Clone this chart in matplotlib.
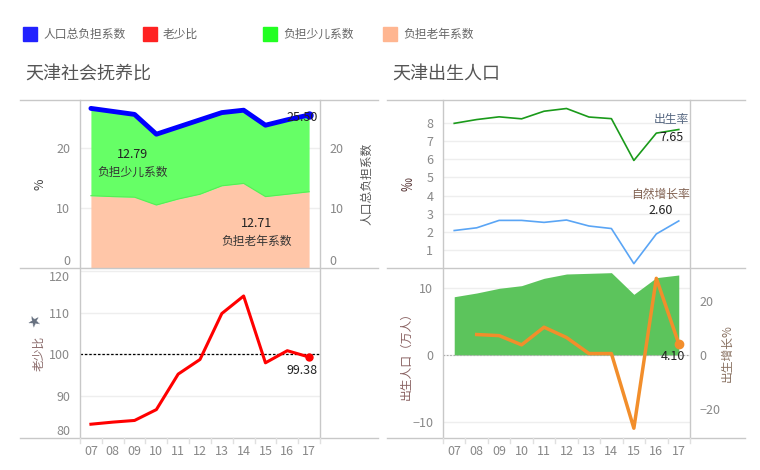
"""
天津社会抚养比 / 天津出生人口 dashboard
"""

import numpy as np
import matplotlib.pyplot as plt
from matplotlib.lines import Line2D
from matplotlib.patches import Rectangle

plt.rcParams['font.family'] = ['Noto Sans CJK SC', 'DejaVu Sans']

#---------------------------------------------------------------------------------------------------
# Data
#---------------------------------------------------------------------------------------------------

years = ['07', '08', '09', '10', '11', '12', '13', '14', '15', '16', '17']

# 抚养比 (%)
old_dep = [12.05, 11.9, 11.8, 10.5, 11.5, 12.3, 13.7, 14.1, 11.9, 12.3, 12.71]
total_dep = [26.6, 26.1, 25.6, 22.3, 23.5, 24.7, 25.9, 26.3, 23.8, 24.7, 25.50]
child_dep = [t - o for t, o in zip(total_dep, old_dep)]

# 老少比
old_young = [83.3, 83.8, 84.2, 86.8, 95.3, 98.8, 109.8, 114.0, 98.0, 100.9, 99.38]

# 出生率 / 自然增长率 (‰)
birth_rate = [7.99, 8.2, 8.35, 8.24, 8.66, 8.81, 8.34, 8.25, 5.94, 7.45, 7.65]
natural_growth = [2.07, 2.22, 2.63, 2.63, 2.52, 2.65, 2.32, 2.18, 0.24, 1.88, 2.60]

# 出生人口 (万人) and 出生增长%
births = [8.74, 9.3, 10.0, 10.4, 11.5, 12.15, 12.25, 12.35, 9.1, 11.6, 12.0]
birth_growth = [np.nan, 7.5, 7.1, 3.7, 10.2, 6.4, 0.5, 0.5, -27.0, 28.2, 4.10]

legend_labels = ['人口总负担系数', '老少比', '负担少儿系数', '负担老年系数']
legend_colors = ['#2222ff', '#ff2222', '#22ff22', '#ffb691']

#---------------------------------------------------------------------------------------------------
# Layout helpers (pixel coords -> figure fraction)
#---------------------------------------------------------------------------------------------------

W, H = 760, 470
fig = plt.figure(figsize=(7.6, 4.7), dpi=100)
grey_line = '#c8c8c8'
tick_col = '#888888'
text_col = '#555555'


def px_axes(x0, y0, x1, y1):
    ax = fig.add_axes([x0 / W, 1 - y1 / H, (x1 - x0) / W, (y1 - y0) / H])
    for s in ax.spines.values():
        s.set_visible(False)
    ax.patch.set_alpha(0)
    return ax


def hline(x0, x1, y):
    fig.add_artist(Line2D([x0 / W, x1 / W], [1 - y / H, 1 - y / H], color=grey_line, lw=1))


def vline(x, y0, y1):
    fig.add_artist(Line2D([x / W, x / W], [1 - y0 / H, 1 - y1 / H], color=grey_line, lw=1))


def style_axis(ax, ticks, ylim, side='left'):
    ax.set_xlim(-0.5, 10.5)
    ax.set_ylim(*ylim)
    ax.set_yticks(ticks)
    ax.set_xticks([])
    ax.tick_params(axis='y', length=0, labelsize=9, labelcolor=tick_col, pad=7,
                   left=False, right=False,
                   labelleft=(side == 'left'), labelright=(side == 'right'))


x = np.arange(len(years))

# Frame lines
for y in [100, 268, 438]:
    hline(20, 378, y)
    hline(387, 745, y)
for xv in [80, 320, 443, 690]:
    vline(xv, 100, 438)

# Small ticks at category boundaries below the x axis
for x0, x1 in [(80, 320), (443, 690)]:
    step = (x1 - x0) / 11
    for k in range(12):
        xp = x0 + k * step
        fig.add_artist(Line2D([xp / W, xp / W], [1 - 438 / H, 1 - 443 / H], color='#e0e0e0', lw=1))

# Titles
fig.text(25 / W, 1 - 75 / H, '天津社会抚养比', fontsize=13, color=text_col, va='center')
fig.text(392 / W, 1 - 75 / H, '天津出生人口', fontsize=13, color=text_col, va='center')

# Legend
leg_x = [23, 143, 263, 383]
for lx, lab, col in zip(leg_x, legend_labels, legend_colors):
    fig.add_artist(Rectangle((lx / W, 1 - 41 / H), 14 / W, 14 / H, color=col,
                             transform=fig.transFigure))
    fig.text((lx + 20) / W, 1 - 34 / H, lab, fontsize=8.5, color='#666666', va='center')

#---------------------------------------------------------------------------------------------------
# Top left: 抚养比 stacked areas
#---------------------------------------------------------------------------------------------------

ax1 = px_axes(80, 100, 320, 268)
style_axis(ax1, [0, 10, 20], (0, 28))
ax1.grid(axis='y', color='#eeeeee', lw=1)
ax1.set_axisbelow(True)
ax1.fill_between(x, 0, old_dep, color='#ffc6a8', lw=0)
ax1.fill_between(x, old_dep, total_dep, color='#66ff66', lw=0)
ax1.plot(x, old_dep, color='#55ee55', lw=0.8)
ax1.plot(x, total_dep, color='#0000ff', lw=3.5, solid_capstyle='round')
ax1.plot(x[-1], total_dep[-1], 'o', color='#0000ff', ms=5)
ax1.yaxis.get_ticklabels()[0].set_va('bottom')
ax1.text(1.9, 18.9, '%.2f' % child_dep[-1], fontsize=9, color='#222222', ha='center', va='center')
ax1.text(1.9, 16.0, '负担少儿系数', fontsize=8.5, color='#333333', ha='center', va='center')
ax1.text(7.6, 7.4, '%.2f' % old_dep[-1], fontsize=9, color='#222222', ha='center', va='center')
ax1.text(7.6, 4.5, '负担老年系数', fontsize=8.5, color='#333333', ha='center', va='center')
ax1.text(9.7, 25.1, '%.2f' % total_dep[-1], fontsize=9, color='#222222', ha='center', va='center')
ax1.set_ylabel('%', fontsize=9, color='#444444', labelpad=7)

ax1r = ax1.twinx()
for s in ax1r.spines.values():
    s.set_visible(False)
style_axis(ax1r, [0, 10, 20], (0, 28), side='right')
ax1r.yaxis.get_ticklabels()[0].set_va('bottom')
ax1r.set_ylabel('人口总负担系数', fontsize=8.5, color='#555555', labelpad=12)

#---------------------------------------------------------------------------------------------------
# Bottom left: 老少比
#---------------------------------------------------------------------------------------------------

ax2 = px_axes(80, 268, 320, 438)
style_axis(ax2, [80, 90, 100, 110, 120], (80, 120.7))
ax2.grid(axis='y', color='#eeeeee', lw=1)
ax2.set_axisbelow(True)
ax2.axhline(100, color='black', lw=0.9, ls=(0, (2, 1.5)))
ax2.plot(x, old_young, color='#ff0000', lw=2.2)
ax2.plot(x[-1], old_young[-1], 'o', color='#ff0000', ms=5)
ax2.yaxis.get_ticklabels()[0].set_va('bottom')
ax2.yaxis.get_ticklabels()[-1].set_va('top')
ax2.text(9.7, 96.2, '%.2f' % old_young[-1], fontsize=9, color='#222222', ha='center', va='center')
ax2.set_ylabel('老少比', fontsize=8.5, color='#8a6a6a', labelpad=3)
fig.text(35 / W, 1 - 322 / H, '★', fontsize=9, color='#667080', ha='center', va='center', rotation=30)
for k, lab in enumerate(years):
    ax2.text(k, -0.08, lab, transform=ax2.get_xaxis_transform(), fontsize=9,
             color=tick_col, ha='center', va='center')

#---------------------------------------------------------------------------------------------------
# Top right: 出生率 / 自然增长率
#---------------------------------------------------------------------------------------------------

ax3 = px_axes(443, 100, 690, 268)
style_axis(ax3, range(1, 9), (0, 9.28))
ax3.grid(axis='y', color='#eeeeee', lw=1)
ax3.set_axisbelow(True)
ax3.plot(x, birth_rate, color='#1a9a1a', lw=1.2)
ax3.plot(x, natural_growth, color='#5aa5f5', lw=1.2)
ax3.text(9.65, 8.2, '出生率', fontsize=8.5, color='#556680', ha='center', va='center')
ax3.text(9.7, 7.2, '%.2f' % birth_rate[-1], fontsize=9, color='#222222', ha='center', va='center')
ax3.text(9.2, 4.1, '自然增长率', fontsize=8.5, color='#806050', ha='center', va='center')
ax3.text(9.2, 3.2, '%.2f' % natural_growth[-1], fontsize=9, color='#222222', ha='center', va='center')
ax3.set_ylabel('‰', fontsize=10, color='#553333', labelpad=8)

#---------------------------------------------------------------------------------------------------
# Bottom right: 出生人口 and 出生增长%
#---------------------------------------------------------------------------------------------------

ax4 = px_axes(443, 268, 690, 438)
style_axis(ax4, [-10, 0, 10], (-12.45, 13.05))
ax4.grid(axis='y', color='#eeeeee', lw=1)
ax4.set_axisbelow(True)
ax4.axhline(0, color='#aaaaaa', lw=0.8, ls=(0, (1.5, 1.5)))
ax4.fill_between(x, 0, births, color='#5cc45c', lw=0)
ax4.set_ylabel('出生人口（万人）', fontsize=8.5, color='#886060', labelpad=0)
for k, lab in enumerate(years):
    ax4.text(k, -0.08, lab, transform=ax4.get_xaxis_transform(), fontsize=9,
             color=tick_col, ha='center', va='center')

ax4r = ax4.twinx()
for s in ax4r.spines.values():
    s.set_visible(False)
style_axis(ax4r, [-20, 0, 20], (-30.6, 32.0), side='right')
ax4r.plot(x, birth_growth, color='#f28e2b', lw=2.5)
ax4r.plot(x[-1], birth_growth[-1], 'o', color='#f28e2b', ms=6)
ax4r.text(9.75, -0.6, '%.2f' % birth_growth[-1], fontsize=9, color='#222222', ha='center', va='center')
ax4r.set_ylabel('出生增长%', fontsize=8.5, color='#887060', labelpad=0)

plt.savefig('out.png', dpi=100)
